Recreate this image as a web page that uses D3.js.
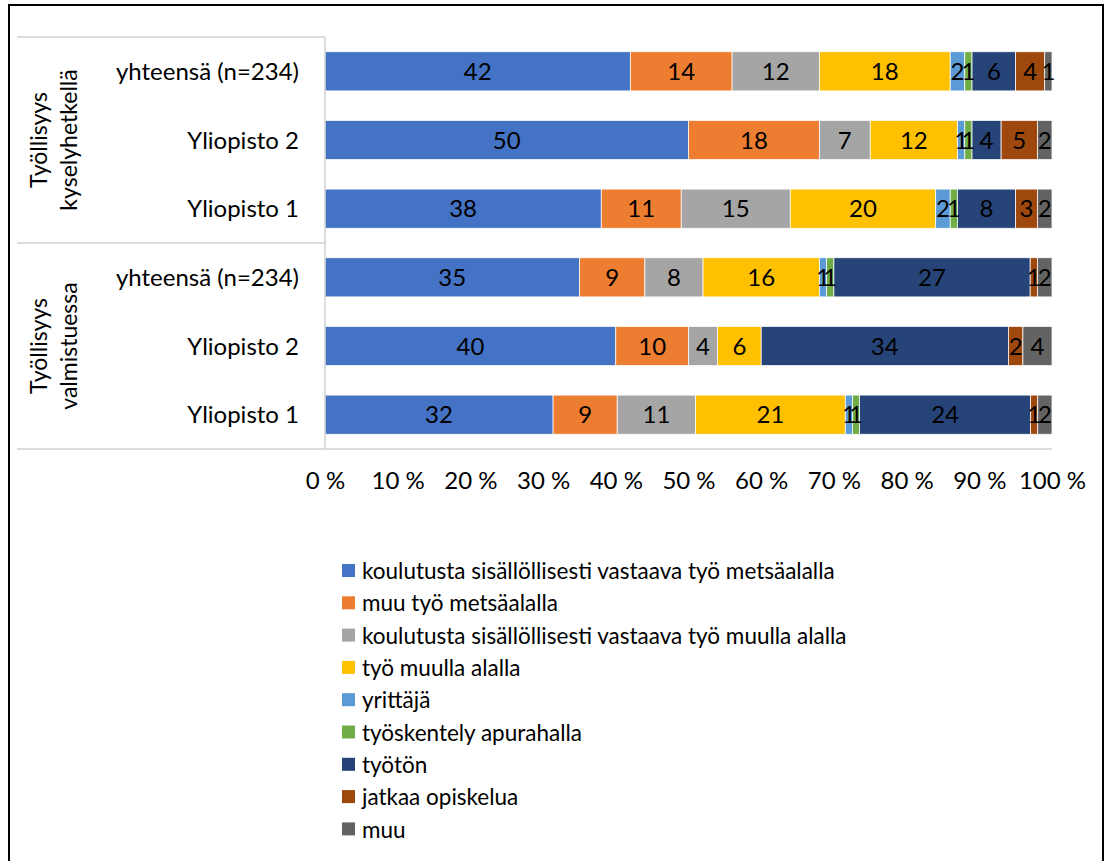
<!DOCTYPE html>
<html><head><meta charset="utf-8">
<script src="https://cdn.jsdelivr.net/npm/d3@7"></script>
<style>body{margin:0;background:#fff}svg{display:block;font-family:Lato,"Open Sans",sans-serif}</style>
</head><body><svg id="c" width="1107" height="861"></svg>
<script>
const series = ["koulutusta sisällöllisesti vastaava työ metsäalalla","muu työ metsäalalla","koulutusta sisällöllisesti vastaava työ muulla alalla","työ muulla alalla","yrittäjä","työskentely apurahalla","työtön","jatkaa opiskelua","muu"];
const colors = ["#4472C4","#ED7D31","#A5A5A5","#FFC000","#5B9BD5","#70AD47","#264478","#9E480E","#636363"];
const groups = ["Työllisyys kyselyhetkellä","Työllisyys valmistuessa"];
const rowLabels = ["yhteensä (n=234)","Yliopisto 2","Yliopisto 1","yhteensä (n=234)","Yliopisto 2","Yliopisto 1"];
const rowGroup = [0,0,0,1,1,1];
const kysely_yhteensa = [42,14,12,18,2,1,6,4,1];
const kysely_yo2 = [50,18,7,12,1,1,4,5,2];
const kysely_yo1 = [38,11,15,20,2,1,8,3,2];
const valm_yhteensa = [35,9,8,16,1,1,27,1,2];
const valm_yo2 = [40,10,4,6,0,0,34,2,4];
const valm_yo1 = [32,9,11,21,1,1,24,1,2];
const rowValues = [kysely_yhteensa,kysely_yo2,kysely_yo1,valm_yhteensa,valm_yo2,valm_yo1];
const ticks = [0,0.1,0.2,0.3,0.4,0.5,0.6,0.7,0.8,0.9,1];

const svg = d3.select("#c");
svg.append("rect").attr("x",9).attr("y",5).attr("width",1094).attr("height",900).attr("fill","none").attr("stroke","#000").attr("stroke-width",2);

const L=325,R=1052,T=37,B=449;
const FS=24;
const x = d3.scaleLinear().domain([0,1]).range([L,R]);
const y = d3.scaleBand().domain(d3.range(rowLabels.length)).range([T,B]).paddingInner(0.43).paddingOuter(0.215);

const g = svg.append("g");
rowValues.forEach((vals,i)=>{
  const tot = d3.sum(vals);
  let cum = 0;
  vals.forEach((v,j)=>{
    const x0 = x(cum/tot), x1 = x((cum+v)/tot);
    cum += v;
    if (v===0) return;
    g.append("rect").attr("x",x0).attr("y",y(i)).attr("width",x1-x0).attr("height",y.bandwidth())
      .attr("fill",colors[j]).attr("stroke","#fff").attr("stroke-width",0.75);
  });
  cum = 0;
  vals.forEach((v,j)=>{
    const x0 = x(cum/tot), x1 = x((cum+v)/tot);
    cum += v;
    if (v===0) return;
    g.append("text").attr("x",(x0+x1)/2).attr("y",y(i)+y.bandwidth()/2).attr("dy","0.36em")
      .attr("text-anchor","middle").attr("font-size",FS).attr("fill","#000").text(v);
  });
});

// axis lines
const lc="#d0d0d0";
svg.append("line").attr("x1",L).attr("x2",L).attr("y1",T).attr("y2",B).attr("stroke",lc).attr("stroke-width",1.5);
svg.append("line").attr("x1",17).attr("x2",R).attr("y1",B).attr("y2",B).attr("stroke",lc).attr("stroke-width",1.5);
svg.append("line").attr("x1",17).attr("x2",L).attr("y1",T).attr("y2",T).attr("stroke",lc).attr("stroke-width",1.5);
svg.append("line").attr("x1",17).attr("x2",L).attr("y1",(T+B)/2).attr("y2",(T+B)/2).attr("stroke",lc).attr("stroke-width",1.5);

// row labels
rowLabels.forEach((t,i)=>{
  svg.append("text").attr("x",299).attr("y",y(i)+y.bandwidth()/2).attr("dy","0.36em")
    .attr("text-anchor","end").attr("font-size",FS).attr("fill","#000").text(t);
});
// group labels
groups.forEach((gname,k)=>{
  const idx = rowGroup.map((gg,i)=>gg===k?i:-1).filter(i=>i>=0);
  const cy = (y(idx[0]) + y(idx[idx.length-1]) + y.bandwidth())/2;
  const parts = gname.split(" ");
  const t = svg.append("text").attr("transform",`translate(54,${cy}) rotate(-90)`).attr("text-anchor","middle").attr("font-size",23).attr("fill","#000");
  t.append("tspan").attr("x",0).attr("dy","-0.3em").text(parts[0]);
  t.append("tspan").attr("x",0).attr("dy","1.3em").text(parts[1]);
});

// x ticks
const xa = svg.append("g").attr("transform",`translate(0,${B})`)
  .call(d3.axisBottom(x).tickValues(ticks).tickSize(0).tickPadding(23).tickFormat(d=>Math.round(d*100)+" %"));
xa.select(".domain").remove();
xa.selectAll("text").attr("font-size",FS).attr("fill","#000").attr("font-family","Lato,'Open Sans',sans-serif");

// legend
const lg = svg.append("g");
series.forEach((s,j)=>{
  const yy = 571 + j*32.3;
  lg.append("rect").attr("x",342).attr("y",yy-7).attr("width",13).attr("height",13).attr("fill",colors[j]);
  lg.append("text").attr("x",362).attr("y",yy).attr("dy","0.36em").attr("font-size",22.5).attr("fill","#000").text(s);
});
</script></body></html>
